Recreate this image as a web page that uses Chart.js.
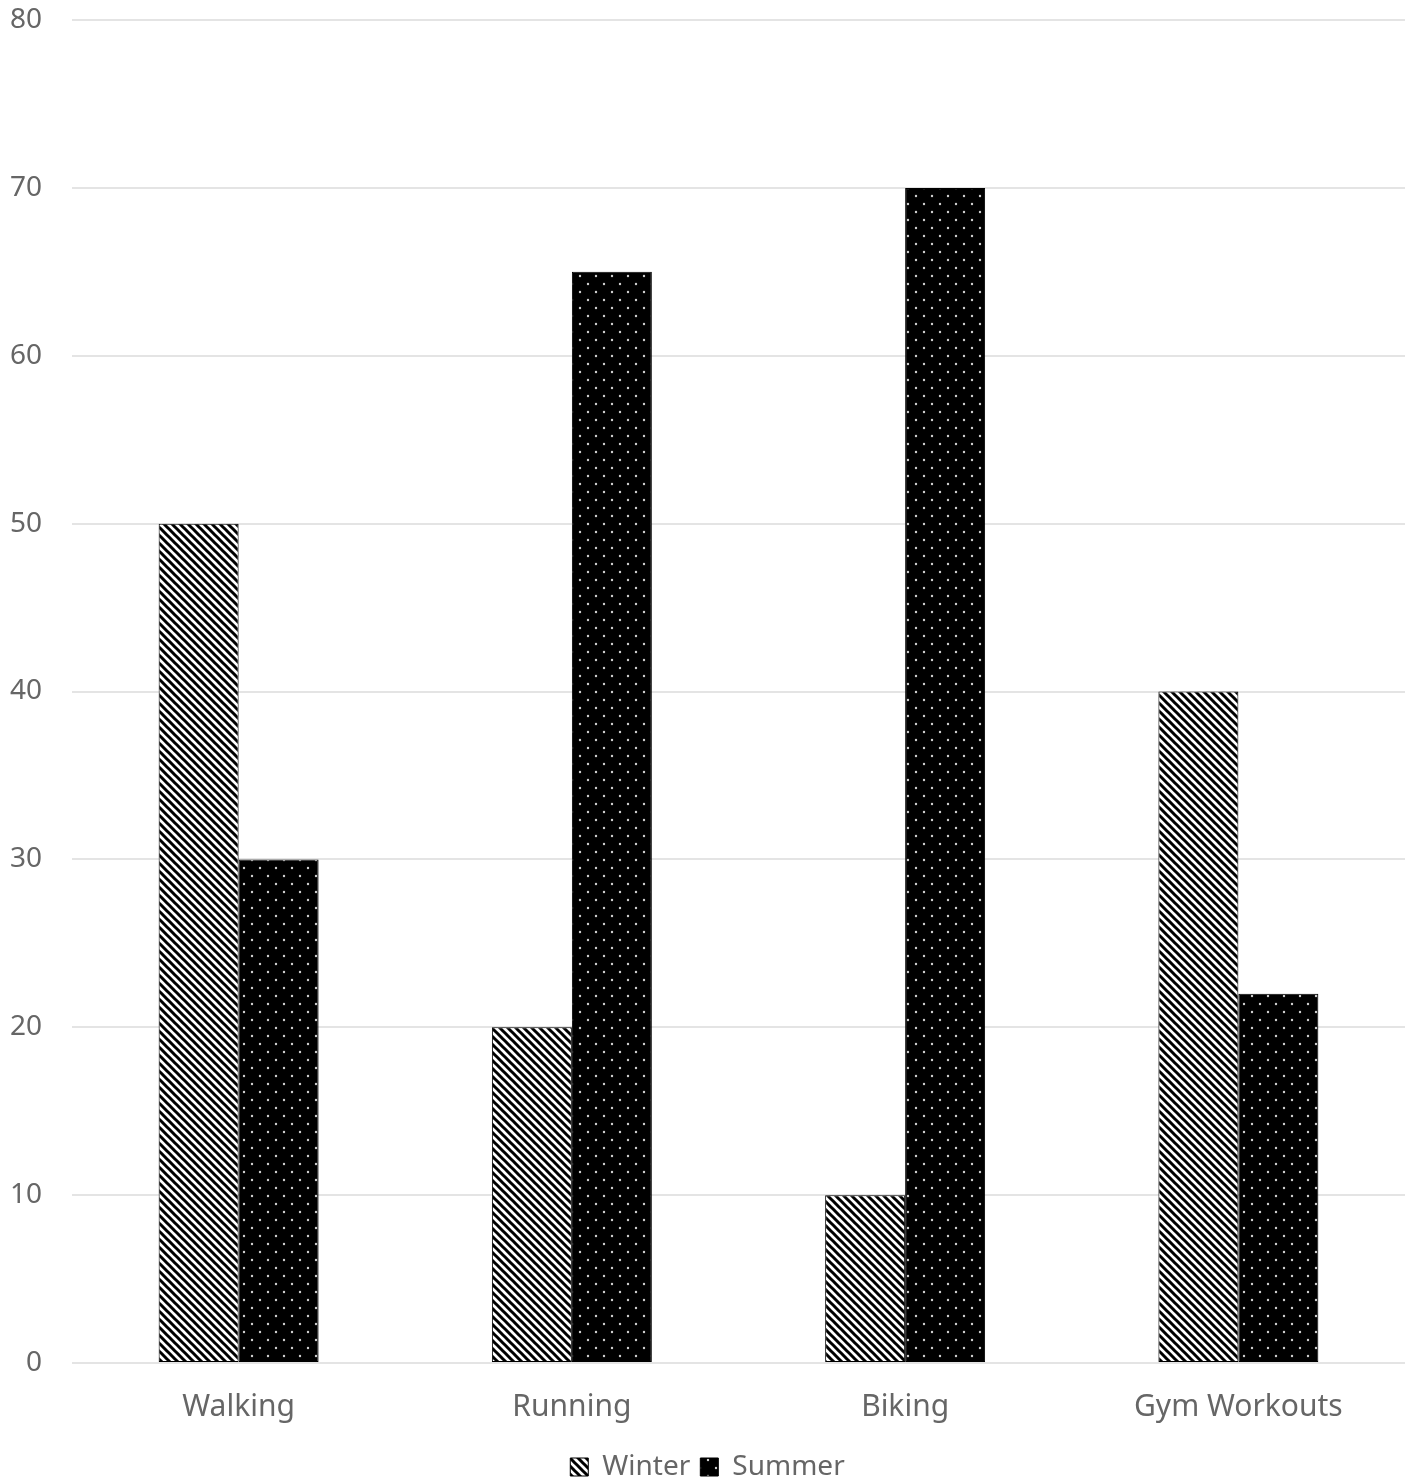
<!DOCTYPE html>
<html>
<head>
<meta charset="utf-8">
<script src="https://cdn.jsdelivr.net/npm/chart.js@4/dist/chart.umd.min.js"></script>
<style>
  html, body { margin: 0; padding: 0; background: #fff; }
  #wrap { width: 1410px; height: 1478px; }
</style>
</head>
<body>
<div id="wrap"><canvas id="chart"></canvas></div>
<script>
/* ── Data ── */
const categories   = ['Walking', 'Running', 'Biking', 'Gym Workouts'];
const winterValues = [50, 20, 10, 40];
const summerValues = [30, 65, 70, 22];
const yTicks       = [0, 10, 20, 30, 40, 50, 60, 70, 80];

/* ── Patterns ── */
function stripePattern() {
    const c = document.createElement('canvas');
    c.width = 8; c.height = 8;
    const g = c.getContext('2d');
    g.fillStyle = '#fff';
    g.fillRect(0, 0, 8, 8);
    g.strokeStyle = '#000';
    g.lineWidth = 3;
    g.beginPath();
    // "\" direction, wrapped at the tile corners
    g.moveTo(-2, -2); g.lineTo(10, 10);
    g.moveTo(-2, 6);  g.lineTo(2, 10);
    g.moveTo(6, -2);  g.lineTo(10, 2);
    g.stroke();
    return g.createPattern(c, 'repeat');
}

function dotPattern() {
    const c = document.createElement('canvas');
    c.width = 16; c.height = 16;
    const g = c.getContext('2d');
    g.fillStyle = '#000';
    g.fillRect(0, 0, 16, 16);
    g.fillStyle = '#d0d0d0';
    [[4, 4], [12, 12]].forEach(([x, y]) => {
        g.beginPath();
        g.arc(x, y, 1.2, 0, Math.PI * 2);
        g.fill();
    });
    return g.createPattern(c, 'repeat');
}

const labelFont = '"Noto Sans", Roboto, sans-serif';

new Chart(document.getElementById('chart').getContext('2d'), {
    type: 'bar',
    data: {
        labels: categories,
        datasets: [
            {
                label:           'Winter',
                data:            winterValues,
                backgroundColor: stripePattern(),
                borderColor:     '#000',
                borderWidth:     1,
                borderSkipped:   false,
            },
            {
                label:           'Summer',
                data:            summerValues,
                backgroundColor: dotPattern(),
                borderColor:     '#000',
                borderWidth:     1,
                borderSkipped:   false,
            },
        ],
    },
    options: {
        responsive:          true,
        maintainAspectRatio: false,
        animation:           false,
        categoryPercentage:  0.48,
        barPercentage:       1.0,
        layout: { padding: { left: 10, right: 5, top: 20, bottom: -13 } },
        scales: {
            x: {
                grid:   { display: false },
                border: { display: false },
                ticks:  { color: '#666', padding: 18, font: { family: labelFont, size: 30 } },
            },
            y: {
                min: 0,
                max: 80,
                afterBuildTicks: axis => { axis.ticks = yTicks.map(v => ({ value: v })); },
                afterFit: axis => {
                    axis.width = 62;
                    axis.paddingTop = 0;
                    axis.paddingBottom = 0;
                },
                grid:   { color: '#e4e4e4', lineWidth: 2, drawTicks: false },
                border: { display: false },
                ticks:  { color: '#666', padding: 30, font: { family: labelFont, size: 28 } },
            },
        },
        plugins: {
            legend: {
                display:  true,
                position: 'bottom',
                labels: {
                    color:     '#666',
                    boxWidth:  18,
                    boxHeight: 18,
                    padding:   10,
                    font:      { family: labelFont, size: 28 },
                },
            },
            tooltip: { enabled: false },
        },
    },
});
</script>
</body>
</html>
